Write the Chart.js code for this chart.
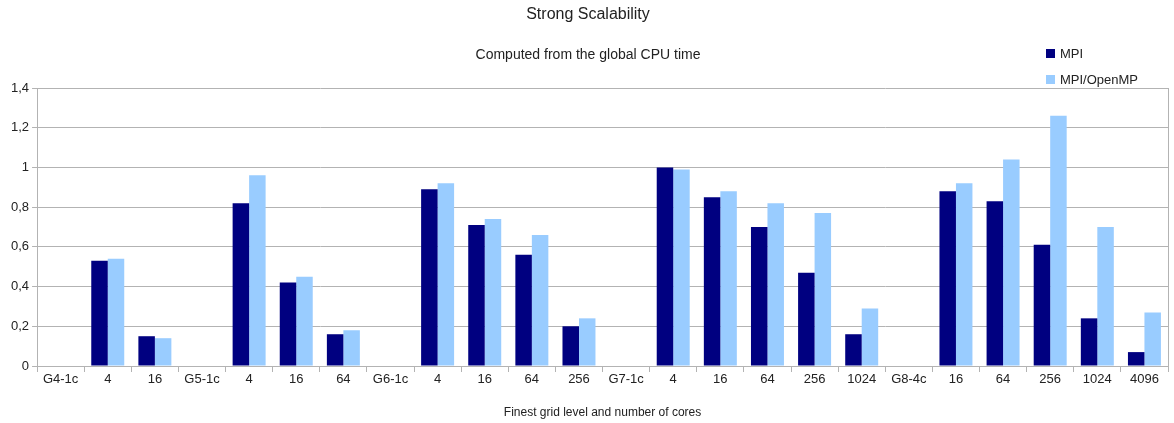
<!DOCTYPE html>
<html lang="en">

<head>
    <meta charset="UTF-8">
    <title>Strong Scalability</title>
    <script src="https://cdn.jsdelivr.net/npm/chart.js"></script>
    <style>
        html, body { margin: 0; padding: 0; background: #fff; }
        .box { position: relative; width: 1174px; height: 423px; }
        #legenda { position: absolute; left: 1046px; top: 40px; font: 13px "Liberation Sans", Arial, sans-serif; color: #222; }
        #legenda div { height: 26px; display: flex; align-items: center; }
        #legenda span { display: inline-block; width: 9px; height: 9px; margin-right: 5px; }
    </style>
</head>

<body>
    <div class="box">
        <canvas id="myChart" width="1174" height="423"></canvas>
        <div id="legenda"></div>
    </div>
</body>

<script>
    // categorias (nivel de malha e numero de cores)
    var categorias = ['G4-1c', '4', '16', 'G5-1c', '4', '16', '64', 'G6-1c', '4', '16', '64', '256',
        'G7-1c', '4', '16', '64', '256', '1024', 'G8-4c', '16', '64', '256', '1024', '4096'];

    var mpi = [null, 0.53, 0.15, null, 0.82, 0.42, 0.16, null, 0.89, 0.71, 0.56, 0.20,
        null, 1.00, 0.85, 0.70, 0.47, 0.16, null, 0.88, 0.83, 0.61, 0.24, 0.07];

    var mpiOpenmp = [null, 0.54, 0.14, null, 0.96, 0.45, 0.18, null, 0.92, 0.74, 0.66, 0.24,
        null, 0.99, 0.88, 0.82, 0.77, 0.29, null, 0.92, 1.04, 1.26, 0.70, 0.27];

    var yTicks = [0, 0.2, 0.4, 0.6, 0.8, 1, 1.2, 1.4];

    var fonte = '"Liberation Sans", Arial, sans-serif';
    var cinza = '#b3b3b3';

    // linha da borda direita do grafico
    const bordaDireita = {
        id: 'bordaDireita',
        afterDraw(chart) {
            const a = chart.chartArea;
            const ctx = chart.ctx;
            ctx.save();
            ctx.strokeStyle = cinza;
            ctx.lineWidth = 1;
            ctx.beginPath();
            ctx.moveTo(Math.round(a.right) + 0.5, a.top);
            ctx.lineTo(Math.round(a.right) + 0.5, a.bottom);
            ctx.stroke();
            ctx.restore();
        }
    };

    const ctx = document.getElementById('myChart');

    const grafico = new Chart(ctx, {
        type: 'bar',
        data: {
            labels: categorias,
            datasets: [{
                label: 'MPI',
                data: mpi,
                backgroundColor: '#000080',
                categoryPercentage: 0.7,
                barPercentage: 1
            }, {
                label: 'MPI/OpenMP',
                data: mpiOpenmp,
                backgroundColor: '#99ccff',
                categoryPercentage: 0.7,
                barPercentage: 1
            }]
        },
        options: {
            responsive: false,
            animation: false,
            layout: { padding: { left: 8, right: 6, top: 0, bottom: 3 } },
            plugins: {
                legend: { display: false },
                tooltip: { enabled: false },
                title: {
                    display: true,
                    text: 'Strong Scalability',
                    color: '#222',
                    font: { family: fonte, size: 16, weight: 'normal' },
                    padding: { top: 5, bottom: 21 }
                },
                subtitle: {
                    display: true,
                    text: 'Computed from the global CPU time',
                    color: '#222',
                    font: { family: fonte, size: 14, weight: 'normal' },
                    padding: { top: 2, bottom: 24 }
                }
            },
            scales: {
                x: {
                    grid: { drawOnChartArea: false, drawTicks: true, tickLength: 6, color: cinza, offset: true },
                    border: { color: cinza },
                    ticks: { color: '#222', font: { family: fonte, size: 13 }, padding: 0, maxRotation: 0, autoSkip: false },
                    title: {
                        display: true,
                        text: 'Finest grid level and number of cores',
                        color: '#222',
                        font: { family: fonte, size: 12 },
                        padding: { top: 18, bottom: 0 }
                    }
                },
                y: {
                    min: 0,
                    max: 1.4,
                    afterBuildTicks: function (axis) {
                        axis.ticks = yTicks.map(function (v) { return { value: v }; });
                    },
                    grid: { color: cinza, tickLength: 5 },
                    border: { color: cinza },
                    ticks: {
                        color: '#222',
                        font: { family: fonte, size: 13 },
                        padding: 3,
                        callback: function (v) { return String(Math.round(v * 10) / 10).replace('.', ','); }
                    }
                }
            }
        },
        plugins: [bordaDireita]
    });

    // legenda vertical no canto direito
    var legenda = document.getElementById('legenda');
    grafico.data.datasets.forEach(function (ds) {
        legenda.innerHTML += `<div><span style="background:${ds.backgroundColor}"></span>${ds.label}</div>`;
    });
</script>

</html>
